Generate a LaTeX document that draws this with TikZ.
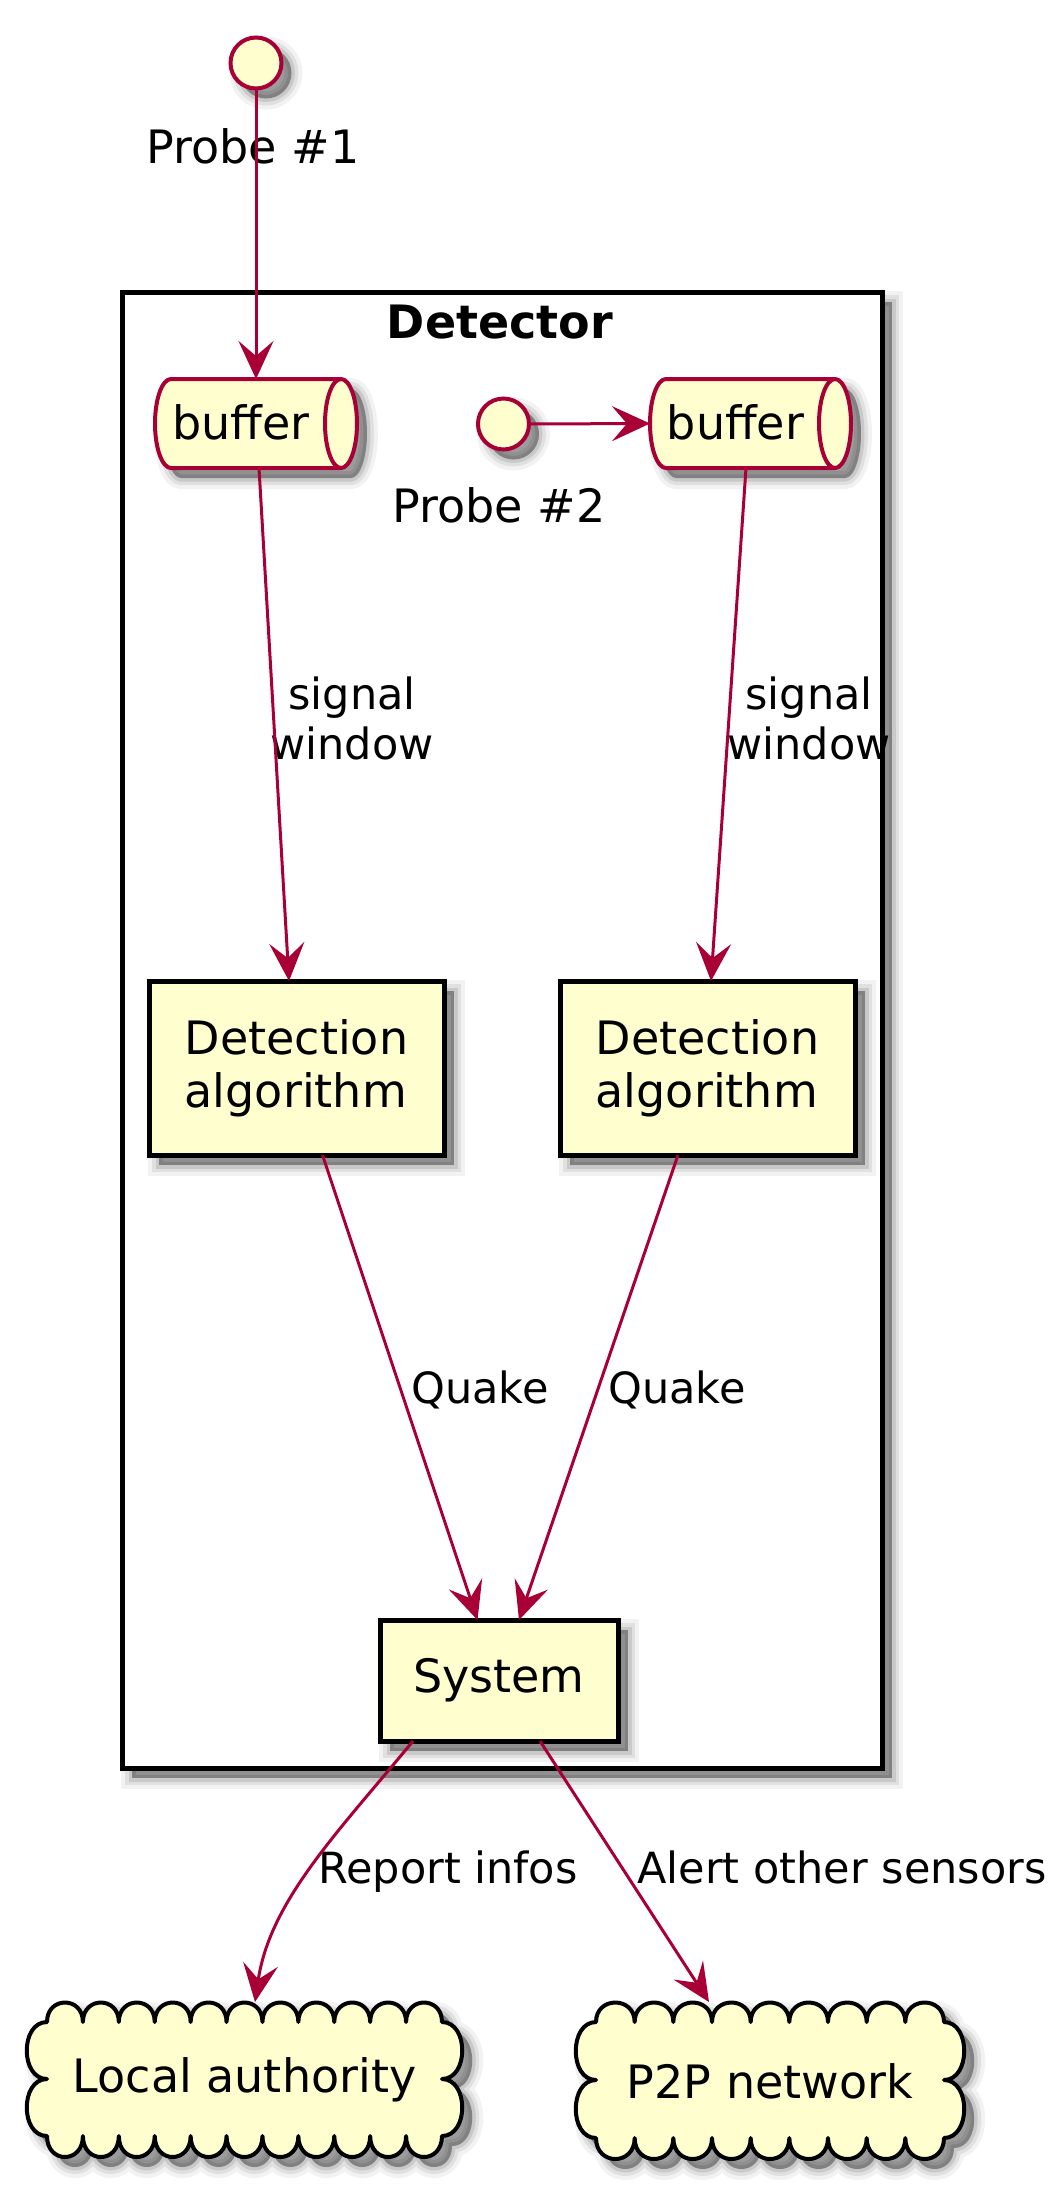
\documentclass[tikz,border=0pt]{standalone}
\usepackage{fontspec}
\setmainfont{DejaVu Sans}
\usetikzlibrary{arrows.meta,shadows}
\definecolor{pfill}{HTML}{FEFECE}
\definecolor{pred}{HTML}{A80036}
\tikzset{
  sh/.style={
    general shadow={shadow xshift=10pt,shadow yshift=-10pt,fill=black,fill opacity=0.05,draw=black,draw opacity=0.05,line width=22pt},
    general shadow={shadow xshift=10pt,shadow yshift=-10pt,fill=black,fill opacity=0.07,draw=black,draw opacity=0.07,line width=14pt},
    general shadow={shadow xshift=10pt,shadow yshift=-10pt,fill=black,fill opacity=0.10,draw=black,draw opacity=0.10,line width=7pt},
    general shadow={shadow xshift=10pt,shadow yshift=-10pt,fill=black,fill opacity=0.18}
  }
}
\newcommand\mycloud[6]{%
  \pgfmathsetmacro\cxl{#1+20}\pgfmathsetmacro\cxr{#3-20}%
  \pgfmathsetmacro\cyt{#2+20}\pgfmathsetmacro\cyb{#4-22}%
  \pgfmathsetmacro\cbw{(\cxr-\cxl)/#5}%
  \pgfmathsetmacro\csh{(\cyb-\cyt)/#6}%
  \path[cloudsty] (\cxl,\cyt)
    \foreach \i in {1,...,#5}{ .. controls +(0,-26) and +(0,-26) .. ++(\cbw,0)}
    \foreach \i in {1,...,#6}{ .. controls +(27,0) and +(27,0) .. ++(0,\csh)}
    \foreach \i in {1,...,#5}{ .. controls +(0,28) and +(0,28) .. ++(-\cbw,0)}
    \foreach \i in {1,...,#6}{ .. controls +(-27,0) and +(-27,0) .. ++(0,-\csh)} -- cycle;
}
\begin{document}
\begin{tikzpicture}[x=1pt,y=-1pt,
  every node/.style={inner sep=0pt,outer sep=0pt},
  nfont/.style={font=\fontsize{46}{53}\selectfont},
  lfont/.style={font=\fontsize{43}{50}\selectfont},
  iface/.style={circle,draw=pred,fill=pfill,line width=4pt,minimum size=51pt,sh},
  qshape/.style={draw=pred,fill=pfill,line width=4pt,sh},
  qline/.style={draw=pred,line width=4pt},
  comp/.style={rectangle,draw=black,fill=pfill,line width=5pt,sh,nfont},
  frame/.style={rectangle,draw=black,fill=white,line width=5pt,sh},
  cloudsty/.style={draw=black,fill=pfill,line width=4pt,line join=round,sh},
  hole/.style={rectangle,draw=none,fill=none},
  conn/.style={draw=pred,line width=3pt,-{Stealth[length=38pt,width=35pt,inset=15pt]}}
]
\fill[white] (0,0) rectangle (1062,2200);
\useasboundingbox (0,0) rectangle (1062,2200);

% Detector frame
\node[frame,minimum width=760,minimum height=1476] (det) at (502,1030) {};
\node[font=\fontsize{46}{53}\selectfont\bfseries,anchor=base] (dettitle) at (500,338) {Detector};

% Probes
\node[iface] (p1) at (256,63) {};
\node[nfont,anchor=base] (p1l) at (253,163) {Probe \#1};
\node[iface] (p2) at (503.5,424) {};
\node[nfont,anchor=base] (p2l) at (499,522) {Probe \#2};

% Buffers
\path[qshape] (171,379) -- (341,379) arc[start angle=-90,end angle=90,x radius=16,y radius=44.5]
  -- (171,468) arc[start angle=90,end angle=270,x radius=16,y radius=44.5] -- cycle;
\draw[qline] (341,379) arc[start angle=-90,end angle=-270,x radius=16,y radius=44.5];
\node[hole,minimum width=202,minimum height=89] (buf1) at (256,423.5) {};
\node[nfont,anchor=base] (buf1t) at (241,439.5) {buffer};

\path[qshape] (666,379) -- (835,379) arc[start angle=-90,end angle=90,x radius=16,y radius=44.5]
  -- (666,468) arc[start angle=90,end angle=270,x radius=16,y radius=44.5] -- cycle;
\draw[qline] (835,379) arc[start angle=-90,end angle=-270,x radius=16,y radius=44.5];
\node[hole,minimum width=201,minimum height=89] (buf2) at (750.5,423.5) {};
\node[nfont,anchor=base] (buf2t) at (735.5,439.5) {buffer};

% Detection algorithms and system
\node[comp,minimum width=295,minimum height=174,align=left] (da1) at (296.5,1068) {Detection\\algorithm};
\node[comp,minimum width=295,minimum height=174,align=left] (da2) at (707.5,1068) {Detection\\algorithm};
\node[comp,minimum width=238,minimum height=121] (sys) at (499,1680.5) {System};

% Clouds
\mycloud{27}{2002}{462}{2158}{11}{2}
\node[hole,nfont,minimum width=435,minimum height=156] (la) at (244.5,2080) {Local authority};
\mycloud{576}{2002}{964}{2160}{9}{2}
\node[hole,nfont,minimum width=388,minimum height=158] (p2p) at (770,2081) {P2P network};

% Labels
\node[lfont,align=center] (lab1) at (352,718.5) {signal\\window};
\node[lfont,align=center] (lab2) at (809,718.5) {signal\\window};
\node[lfont,anchor=base] (lab3) at (480,1403) {Quake};
\node[lfont,anchor=base] (lab4) at (677,1403) {Quake};
\node[lfont,anchor=base] (lab5) at (448,1883) {Report infos};
\node[lfont,anchor=base] (lab6) at (842,1883) {Alert other sensors};

% Connectors
\draw[conn] (p1.south) -- (buf1.north);
\draw[conn] (p2.east) -- (buf2.west);
\draw[conn] ([xshift=3pt]buf1.south) -- ([xshift=-7.5pt]da1.north);
\draw[conn] ([xshift=-4.5pt]buf2.south) -- ([xshift=3.5pt]da2.north);
\draw[conn] ([xshift=26pt]da1.south) -- ([xshift=-21.5pt]sys.north);
\draw[conn] ([xshift=-29.5pt]da2.south) -- ([xshift=20pt]sys.north);
\draw[conn] ([xshift=-86pt]sys.south) .. controls (340,1830) and (270,1900) .. ([xshift=10.5pt]la.north);
\draw[conn] ([xshift=41pt]sys.south) -- ([xshift=-61pt]p2p.north);
\end{tikzpicture}
\end{document}
